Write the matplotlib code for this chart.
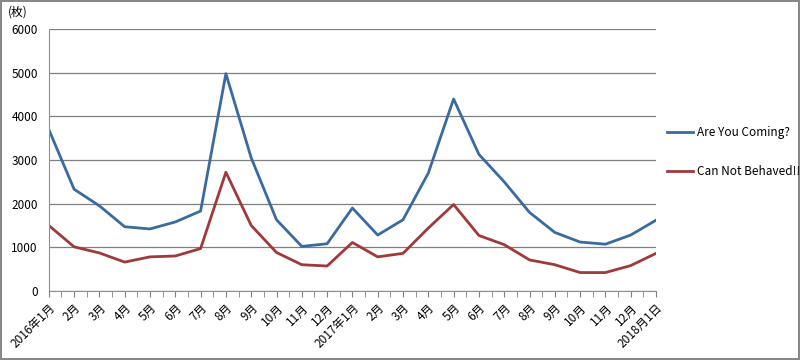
import matplotlib.pyplot as plt
from matplotlib.ticker import MultipleLocator

plt.rcParams['font.family'] = ['Noto Sans CJK JP', 'DejaVu Sans']

months = ["2016年1月", "2月", "3月", "4月", "5月", "6月", "7月", "8月", "9月", "10月", "11月", "12月",
          "2017年1月", "2月", "3月", "4月", "5月", "6月", "7月", "8月", "9月", "10月", "11月", "12月",
          "2018月1日"]
are_you_coming = [3700, 2330, 1950, 1470, 1420, 1580, 1830, 4980, 3050, 1630, 1020, 1080,
                  1900, 1280, 1630, 2700, 4400, 3130, 2500, 1800, 1340, 1120, 1070, 1280, 1620]
can_not_behaved = [1500, 1010, 870, 660, 780, 800, 970, 2720, 1500, 880, 600, 570,
                   1110, 780, 860, 1440, 1980, 1270, 1060, 710, 600, 420, 420, 580, 860]

fig = plt.figure(figsize=(8, 3.6), dpi=100)
fig.patch.set_edgecolor('#888888')
fig.patch.set_linewidth(1.5)
ax = fig.add_axes([0.061, 0.192, 0.759, 0.727])

x = range(len(months))
ax.plot(x, are_you_coming, color='#3A6B9E', lw=2, label='Are You Coming?')
ax.plot(x, can_not_behaved, color='#9E3A3A', lw=2, label='Can Not Behaved!!')

ax.set_xlim(0, len(months) - 1)
ax.set_ylim(0, 6000)
ax.yaxis.set_major_locator(MultipleLocator(1000))
ax.grid(axis='y', color='#7f7f7f', lw=0.9)
ax.set_axisbelow(True)
ax.set_xticks(list(x))
ax.set_xticklabels(months, rotation=45, ha='right', rotation_mode='anchor', fontsize=8.5)
ax.xaxis.set_minor_locator(MultipleLocator(0.5))
ax.tick_params(axis='x', which='both', length=4, color='#808080', direction='out')
ax.tick_params(axis='y', length=0, labelsize=8.5, pad=8)
for s in ['top', 'right']:
    ax.spines[s].set_visible(False)
ax.spines['left'].set_color('#909090')
ax.spines['bottom'].set_color('#909090')

ax.text(-0.068, 1.04, '(枚)', transform=ax.transAxes, fontsize=8.5, ha='left', va='bottom')

fig.legend(loc='upper left', bbox_to_anchor=(0.82, 0.68), frameon=False,
           fontsize=8.5, handlelength=2.2, labelspacing=2.2, handletextpad=0.4)

fig.savefig('out.png', dpi=100, edgecolor=fig.get_edgecolor())
